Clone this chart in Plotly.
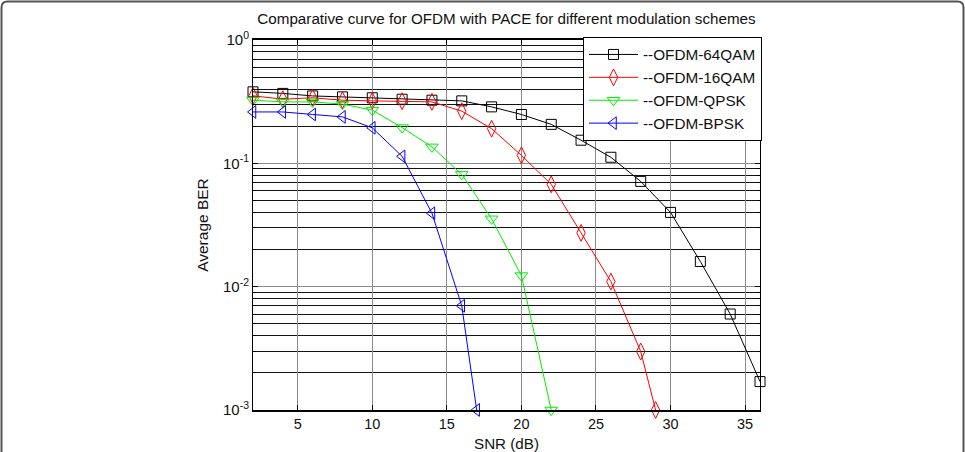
import plotly.graph_objects as go

# ---- data ----
snr_64qam = [2, 4, 6, 8, 10, 12, 14, 16, 18, 20, 22, 24, 26, 28, 30, 32, 34, 36]
ber_64qam = [0.38, 0.369, 0.352, 0.346, 0.34, 0.331, 0.325, 0.321, 0.287, 0.249,
             0.207, 0.154, 0.112, 0.0714, 0.040, 0.016, 0.006, 0.0017]

snr_16qam = [2, 4, 6, 8, 10, 12, 14, 16, 18, 20, 22, 24, 26, 28, 29]
ber_16qam = [0.353, 0.331, 0.34, 0.325, 0.321, 0.319, 0.315, 0.265, 0.191, 0.116,
             0.0675, 0.0273, 0.011, 0.00298, 0.001]

snr_qpsk = [2, 4, 6, 8, 10, 12, 14, 16, 18, 20, 22]
ber_qpsk = [0.325, 0.315, 0.315, 0.302, 0.27, 0.195, 0.136, 0.0814, 0.0355, 0.0123, 0.001]

snr_bpsk = [2, 4, 6, 8, 10, 12, 14, 16, 17]
ber_bpsk = [0.261, 0.261, 0.249, 0.238, 0.194, 0.114, 0.0394, 0.0070, 0.001]

x_ticks = [5, 10, 15, 20, 25, 30, 35]
y_ticks = [0.001, 0.01, 0.1, 1]
y_tick_text = ["10<sup>-3</sup>", "10<sup>-2</sup>", "10<sup>-1</sup>", "10<sup>0</sup>"]

title_text = "Comparative curve for OFDM with PACE for different modulation schemes"

FONT = "Liberation Sans, Arial, Helvetica, sans-serif"

fig = go.Figure()

series = [
    ("--OFDM-64QAM", snr_64qam, ber_64qam, "#000000", "square-open", 10),
    ("--OFDM-16QAM", snr_16qam, ber_16qam, "#ff0000", "diamond-tall-open", 12),
    ("--OFDM-QPSK", snr_qpsk, ber_qpsk, "#00ee00", "triangle-down-open", 11),
    ("--OFDM-BPSK", snr_bpsk, ber_bpsk, "#0000ff", "triangle-left-open", 11),
]
for name, xs, ys, col, sym, sz in series:
    fig.add_trace(go.Scatter(
        x=xs, y=ys, name=name, mode="lines+markers", legendgroup=name,
        line=dict(color=col, width=1),
        marker=dict(symbol=sym, size=sz, color=col, line=dict(color=col, width=1)),
        cliponaxis=False,
    ))

# plot area in pixels
W, H = 965, 452
L, R, T, B = 253, 205, 40, 42
pw, ph = W - L - R, H - T - B

def px_x(p):
    return (p - L) / pw

def px_y(p):
    return (H - B - p) / ph

# decorative rounded frame around the figure (top part)
lx, rx, ty, by = px_x(1.5), px_x(963.5), px_y(1.5), px_y(470)
dx, dy = 6 / pw, 6 / ph
frame_path = (f"M{lx},{by} L{lx},{ty - dy} Q{lx},{ty} {lx + dx},{ty} "
              f"L{rx - dx},{ty} Q{rx},{ty} {rx},{ty - dy} L{rx},{by}")

fig.update_layout(
    width=W, height=H,
    margin=dict(l=L, r=R, t=T, b=B, autoexpand=False),
    paper_bgcolor="white", plot_bgcolor="white",
    font=dict(family=FONT, size=15, color="#111"),
    title=dict(text=title_text, x=0.5, xref="paper", xanchor="center",
               y=1 - 19 / H, yanchor="middle", font=dict(size=15.2, color="#111")),
    showlegend=True,
    legend=dict(x=px_x(583), y=px_y(37), xanchor="left", yanchor="top",
                bgcolor="white", bordercolor="black", borderwidth=1,
                font=dict(size=15.3, color="#111"), tracegroupgap=0,
                traceorder="grouped", itemwidth=49),
    shapes=[dict(type="path", xref="paper", yref="paper", path=frame_path,
                 line=dict(color="#555", width=2), layer="above")],
)

fig.update_xaxes(
    range=[2, 36], tickvals=x_ticks, ticks="inside", ticklen=5, tickcolor="black",
    showline=True, linecolor="black", linewidth=1.5, mirror="ticks",
    showgrid=True, gridcolor="#8a8a8a", gridwidth=1, zeroline=False,
    title=dict(text="SNR (dB)", standoff=10, font=dict(size=15.2)),
    tickfont=dict(size=14.5),
)
fig.update_yaxes(
    type="log", range=[-3, 0], tickmode="array", tickvals=y_ticks, ticktext=y_tick_text,
    ticks="inside", ticklen=5, tickcolor="black",
    showline=True, linecolor="black", linewidth=1, mirror="ticks",
    showgrid=True, gridcolor="#8a8a8a", gridwidth=1, zeroline=False,
    minor=dict(dtick="D1", showgrid=True, gridcolor="#111", gridwidth=1,
               ticks="inside", ticklen=3, tickcolor="black"),
    title=dict(text="Average BER", standoff=10, font=dict(size=15.5)),
    tickfont=dict(size=15),
)

fig.write_html("out.html")
